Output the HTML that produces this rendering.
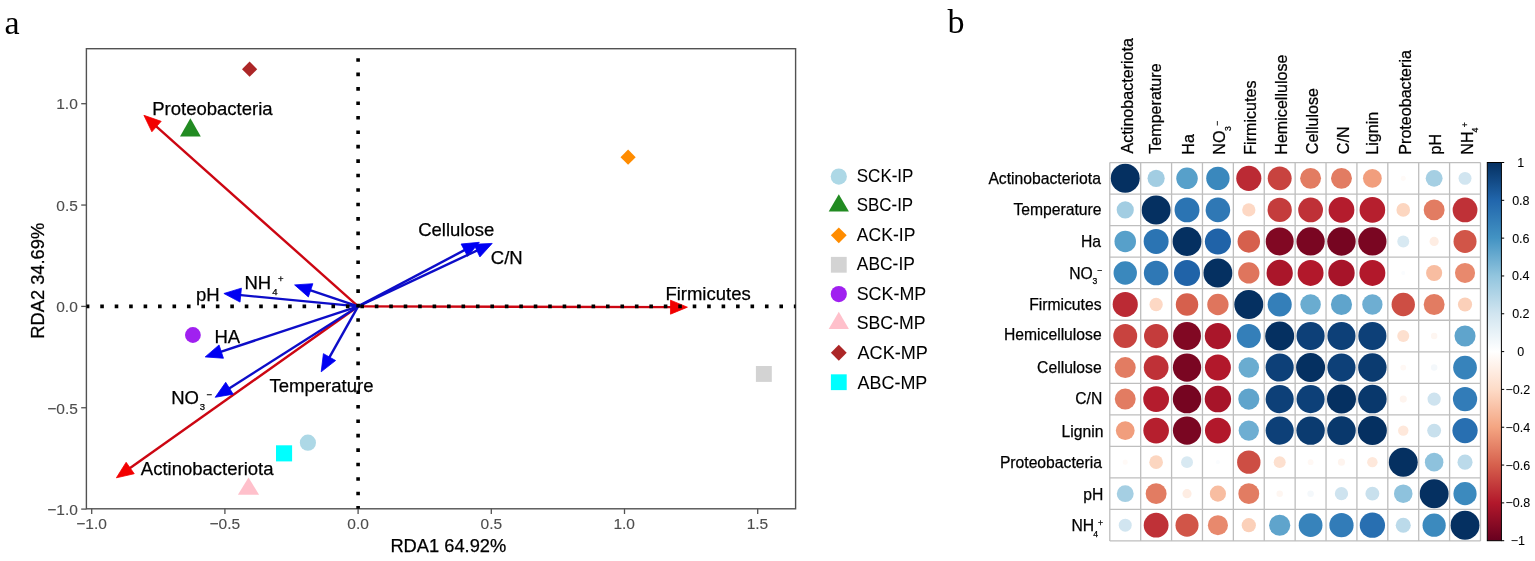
<!DOCTYPE html>
<html><head><meta charset="utf-8"><title>RDA and correlation</title>
<style>html,body{margin:0;padding:0;background:#fff;}svg{display:block;}</style></head>
<body>
<svg width="1535" height="561" viewBox="0 0 1535 561">
<rect width="1535" height="561" fill="#fff"/>
<text x="4.50" y="33.60" font-family="'Liberation Serif',serif" font-size="34" fill="#000" >a</text>
<text x="947.60" y="32.80" font-family="'Liberation Serif',serif" font-size="34" fill="#000" >b</text>
<rect x="86.4" y="48.7" width="709.2" height="460.1" fill="none" stroke="#525252" stroke-width="1.4"/>
<line x1="81.20" y1="103.70" x2="86.40" y2="103.70" stroke="#525252" stroke-width="1.3"/>
<text x="56.26" y="109.45" font-family="'Liberation Sans',Arial,sans-serif" font-size="15.5" fill="#4d4d4d" stroke="#4d4d4d" stroke-width="0.12" >1.0</text>
<line x1="81.20" y1="205.05" x2="86.40" y2="205.05" stroke="#525252" stroke-width="1.3"/>
<text x="56.30" y="210.80" font-family="'Liberation Sans',Arial,sans-serif" font-size="15.5" fill="#4d4d4d" stroke="#4d4d4d" stroke-width="0.12" >0.5</text>
<line x1="81.20" y1="306.40" x2="86.40" y2="306.40" stroke="#525252" stroke-width="1.3"/>
<text x="56.26" y="312.15" font-family="'Liberation Sans',Arial,sans-serif" font-size="15.5" fill="#4d4d4d" stroke="#4d4d4d" stroke-width="0.12" >0.0</text>
<line x1="81.20" y1="407.75" x2="86.40" y2="407.75" stroke="#525252" stroke-width="1.3"/>
<text x="47.25" y="413.50" font-family="'Liberation Sans',Arial,sans-serif" font-size="15.5" fill="#4d4d4d" stroke="#4d4d4d" stroke-width="0.12" >−0.5</text>
<line x1="81.20" y1="509.10" x2="86.40" y2="509.10" stroke="#525252" stroke-width="1.3"/>
<text x="47.21" y="514.85" font-family="'Liberation Sans',Arial,sans-serif" font-size="15.5" fill="#4d4d4d" stroke="#4d4d4d" stroke-width="0.12" >−1.0</text>
<line x1="91.70" y1="508.80" x2="91.70" y2="514.00" stroke="#525252" stroke-width="1.3"/>
<text x="76.32" y="529.30" font-family="'Liberation Sans',Arial,sans-serif" font-size="15.5" fill="#4d4d4d" stroke="#4d4d4d" stroke-width="0.12" >−1.0</text>
<line x1="224.90" y1="508.80" x2="224.90" y2="514.00" stroke="#525252" stroke-width="1.3"/>
<text x="209.54" y="529.30" font-family="'Liberation Sans',Arial,sans-serif" font-size="15.5" fill="#4d4d4d" stroke="#4d4d4d" stroke-width="0.12" >−0.5</text>
<line x1="358.10" y1="508.80" x2="358.10" y2="514.00" stroke="#525252" stroke-width="1.3"/>
<text x="347.33" y="529.30" font-family="'Liberation Sans',Arial,sans-serif" font-size="15.5" fill="#4d4d4d" stroke="#4d4d4d" stroke-width="0.12" >0.0</text>
<line x1="491.30" y1="508.80" x2="491.30" y2="514.00" stroke="#525252" stroke-width="1.3"/>
<text x="480.55" y="529.30" font-family="'Liberation Sans',Arial,sans-serif" font-size="15.5" fill="#4d4d4d" stroke="#4d4d4d" stroke-width="0.12" >0.5</text>
<line x1="624.50" y1="508.80" x2="624.50" y2="514.00" stroke="#525252" stroke-width="1.3"/>
<text x="613.44" y="529.30" font-family="'Liberation Sans',Arial,sans-serif" font-size="15.5" fill="#4d4d4d" stroke="#4d4d4d" stroke-width="0.12" >1.0</text>
<line x1="757.70" y1="508.80" x2="757.70" y2="514.00" stroke="#525252" stroke-width="1.3"/>
<text x="746.66" y="529.30" font-family="'Liberation Sans',Arial,sans-serif" font-size="15.5" fill="#4d4d4d" stroke="#4d4d4d" stroke-width="0.12" >1.5</text>
<text x="390.40" y="551.50" font-family="'Liberation Sans',Arial,sans-serif" font-size="18.3" fill="#000" stroke="#000" stroke-width="0.25" >RDA1 64.92%</text>
<text transform="translate(44.0,338.70) rotate(-90)" font-family="'Liberation Sans',Arial,sans-serif" font-size="18.3" fill="#000" stroke="#000" stroke-width="0.25">RDA2 34.69%</text>
<polygon points="249.60,61.60 257.20,69.20 249.60,76.80 242.00,69.20" fill="#ac2627"/>
<polygon points="190.40,118.30 200.80,136.50 180.00,136.50" fill="#228b22"/>
<polygon points="628.10,149.60 635.70,157.20 628.10,164.80 620.50,157.20" fill="#ff8c00"/>
<rect x="755.90" y="366.00" width="15.90" height="15.90" fill="#d3d3d3"/>
<circle cx="192.90" cy="335.00" r="7.90" fill="#a020f0"/>
<circle cx="307.90" cy="442.70" r="8.10" fill="#add8e6"/>
<rect x="276.00" y="445.30" width="16.10" height="16.10" fill="#00ffff"/>
<polygon points="248.50,477.50 259.10,494.70 237.90,494.70" fill="#ffc0cb"/>
<line x1="358.1" y1="306.4" x2="154.82" y2="125.05" stroke="#cc0612" stroke-width="2.4"/><polygon points="143.90,115.30 151.85,131.78 161.18,121.33" fill="#f20000" stroke="#f20000" stroke-width="0.8" stroke-linejoin="miter"/>
<line x1="358.1" y1="306.4" x2="672.76" y2="307.16" stroke="#cc0612" stroke-width="2.4"/><polygon points="687.40,307.20 670.51,300.16 670.48,314.16" fill="#f20000" stroke="#f20000" stroke-width="0.8" stroke-linejoin="miter"/>
<line x1="358.1" y1="306.4" x2="128.34" y2="469.33" stroke="#cc0612" stroke-width="2.4"/><polygon points="116.40,477.80 134.24,473.73 126.14,462.31" fill="#f20000" stroke="#f20000" stroke-width="0.8" stroke-linejoin="miter"/>
<line x1="358.1" y1="306.4" x2="238.47" y2="294.90" stroke="#0d0dc8" stroke-width="2.4"/><polygon points="223.90,293.50 240.06,302.09 241.40,288.15" fill="#0000f2" stroke="#0000f2" stroke-width="0.8" stroke-linejoin="miter"/>
<line x1="358.1" y1="306.4" x2="308.47" y2="289.60" stroke="#0d0dc8" stroke-width="2.4"/><polygon points="294.60,284.90 308.37,296.96 312.86,283.69" fill="#0000f2" stroke="#0000f2" stroke-width="0.8" stroke-linejoin="miter"/>
<line x1="358.1" y1="306.4" x2="219.10" y2="352.31" stroke="#0d0dc8" stroke-width="2.4"/><polygon points="205.20,356.90 223.45,358.25 219.06,344.95" fill="#0000f2" stroke="#0000f2" stroke-width="0.8" stroke-linejoin="miter"/>
<line x1="358.1" y1="306.4" x2="227.55" y2="389.44" stroke="#0d0dc8" stroke-width="2.4"/><polygon points="215.20,397.30 233.22,394.13 225.71,382.32" fill="#0000f2" stroke="#0000f2" stroke-width="0.8" stroke-linejoin="miter"/>
<line x1="358.1" y1="306.4" x2="328.39" y2="359.05" stroke="#0d0dc8" stroke-width="2.4"/><polygon points="321.20,371.80 335.61,360.52 323.41,353.63" fill="#0000f2" stroke="#0000f2" stroke-width="0.8" stroke-linejoin="miter"/>
<line x1="358.1" y1="306.4" x2="466.36" y2="249.14" stroke="#0d0dc8" stroke-width="2.4"/><polygon points="479.30,242.30 461.08,244.01 467.63,256.39" fill="#0000f2" stroke="#0000f2" stroke-width="0.8" stroke-linejoin="miter"/>
<line x1="358.1" y1="306.4" x2="478.95" y2="249.63" stroke="#0d0dc8" stroke-width="2.4"/><polygon points="492.20,243.40 473.92,244.25 479.88,256.93" fill="#0000f2" stroke="#0000f2" stroke-width="0.8" stroke-linejoin="miter"/>
<text x="152.28" y="115.00" font-family="'Liberation Sans',Arial,sans-serif" font-size="18.5" fill="#000" stroke="#000" stroke-width="0.25" >Proteobacteria</text>
<text x="195.91" y="300.90" font-family="'Liberation Sans',Arial,sans-serif" font-size="18.5" fill="#000" stroke="#000" stroke-width="0.25" >pH</text>
<text x="214.48" y="342.50" font-family="'Liberation Sans',Arial,sans-serif" font-size="18.5" fill="#000" stroke="#000" stroke-width="0.25" >HA</text>
<text x="269.58" y="391.60" font-family="'Liberation Sans',Arial,sans-serif" font-size="18.5" fill="#000" stroke="#000" stroke-width="0.25" >Temperature</text>
<text x="140.86" y="474.90" font-family="'Liberation Sans',Arial,sans-serif" font-size="18.5" fill="#000" stroke="#000" stroke-width="0.25" >Actinobacteriota</text>
<text x="418.16" y="235.50" font-family="'Liberation Sans',Arial,sans-serif" font-size="18.5" fill="#000" stroke="#000" stroke-width="0.25" >Cellulose</text>
<text x="490.86" y="264.30" font-family="'Liberation Sans',Arial,sans-serif" font-size="18.5" fill="#000" stroke="#000" stroke-width="0.25" >C/N</text>
<text x="665.38" y="300.20" font-family="'Liberation Sans',Arial,sans-serif" font-size="18.5" fill="#000" stroke="#000" stroke-width="0.25" >Firmicutes</text>
<text x="244.38" y="288.70" font-family="'Liberation Sans',Arial,sans-serif" font-size="18.5" fill="#000" stroke="#000" stroke-width="0.25" >NH</text><text x="272.18" y="294.60" font-family="'Liberation Sans',Arial,sans-serif" font-size="9.5" fill="#000" stroke="#000" stroke-width="0.25" >4</text><text x="278.02" y="281.80" font-family="'Liberation Sans',Arial,sans-serif" font-size="9.5" fill="#000" stroke="#000" stroke-width="0.25" >+</text>
<text x="171.18" y="404.00" font-family="'Liberation Sans',Arial,sans-serif" font-size="18.5" fill="#000" stroke="#000" stroke-width="0.25" >NO</text><text x="199.79" y="410.10" font-family="'Liberation Sans',Arial,sans-serif" font-size="9.5" fill="#000" stroke="#000" stroke-width="0.25" >3</text><text x="206.38" y="397.70" font-family="'Liberation Sans',Arial,sans-serif" font-size="9.5" fill="#000" stroke="#000" stroke-width="0.25" >−</text>
<line x1="86.40" y1="306.4" x2="795.60" y2="306.4" stroke="#000" stroke-width="3.6" stroke-dasharray="3.6 10.85" stroke-dashoffset="0.60"/>
<line x1="358.1" y1="508.80" x2="358.1" y2="48.70" stroke="#000" stroke-width="3.6" stroke-dasharray="3.6 10.85" stroke-dashoffset="0.90"/>
<circle cx="838.80" cy="176.60" r="8.10" fill="#add8e6"/>
<text x="856.78" y="181.50" font-family="'Liberation Sans',Arial,sans-serif" font-size="18.0" fill="#000" stroke="#000" stroke-width="0.05"  textLength="56.67" lengthAdjust="spacingAndGlyphs">SCK-IP</text>
<polygon points="838.80,194.36 848.90,211.56 828.70,211.56" fill="#228b22"/>
<text x="856.78" y="211.09" font-family="'Liberation Sans',Arial,sans-serif" font-size="18.0" fill="#000" stroke="#000" stroke-width="0.05"  textLength="56.37" lengthAdjust="spacingAndGlyphs">SBC-IP</text>
<polygon points="838.80,227.42 846.70,235.32 838.80,243.22 830.90,235.32" fill="#ff8c00"/>
<text x="856.86" y="240.68" font-family="'Liberation Sans',Arial,sans-serif" font-size="18.0" fill="#000" stroke="#000" stroke-width="0.05"  textLength="58.48" lengthAdjust="spacingAndGlyphs">ACK-IP</text>
<rect x="830.90" y="256.88" width="15.80" height="15.80" fill="#d3d3d3"/>
<text x="856.86" y="270.27" font-family="'Liberation Sans',Arial,sans-serif" font-size="18.0" fill="#000" stroke="#000" stroke-width="0.05"  textLength="57.98" lengthAdjust="spacingAndGlyphs">ABC-IP</text>
<circle cx="838.80" cy="294.04" r="8.10" fill="#a020f0"/>
<text x="856.68" y="299.86" font-family="'Liberation Sans',Arial,sans-serif" font-size="18.0" fill="#000" stroke="#000" stroke-width="0.05"  textLength="69.57" lengthAdjust="spacingAndGlyphs">SCK-MP</text>
<polygon points="838.80,311.80 848.90,329.00 828.70,329.00" fill="#ffc0cb"/>
<text x="856.68" y="329.45" font-family="'Liberation Sans',Arial,sans-serif" font-size="18.0" fill="#000" stroke="#000" stroke-width="0.05"  textLength="68.87" lengthAdjust="spacingAndGlyphs">SBC-MP</text>
<polygon points="838.80,344.86 846.70,352.76 838.80,360.66 830.90,352.76" fill="#ac2627"/>
<text x="857.56" y="359.04" font-family="'Liberation Sans',Arial,sans-serif" font-size="18.0" fill="#000" stroke="#000" stroke-width="0.05"  textLength="70.28" lengthAdjust="spacingAndGlyphs">ACK-MP</text>
<rect x="830.90" y="374.32" width="15.80" height="15.80" fill="#00ffff"/>
<text x="857.56" y="388.63" font-family="'Liberation Sans',Arial,sans-serif" font-size="18.0" fill="#000" stroke="#000" stroke-width="0.05"  textLength="69.78" lengthAdjust="spacingAndGlyphs">ABC-MP</text>
<circle cx="1125.24" cy="178.37" r="14.50" fill="#053061"/>
<circle cx="1156.13" cy="178.37" r="8.58" fill="#a2cde2"/>
<circle cx="1187.02" cy="178.37" r="10.75" fill="#57a0ca"/>
<circle cx="1217.91" cy="178.37" r="11.69" fill="#3a88bd"/>
<circle cx="1248.80" cy="178.37" r="12.56" fill="#bb2a34"/>
<circle cx="1279.69" cy="178.37" r="11.96" fill="#c8433f"/>
<circle cx="1310.59" cy="178.37" r="10.46" fill="#e27c62"/>
<circle cx="1341.47" cy="178.37" r="10.46" fill="#e27c62"/>
<circle cx="1372.37" cy="178.37" r="9.40" fill="#f19e7d"/>
<circle cx="1403.25" cy="178.37" r="2.51" fill="#fffaf7"/>
<circle cx="1434.14" cy="178.37" r="8.45" fill="#a5cfe3"/>
<circle cx="1465.03" cy="178.37" r="6.48" fill="#d1e5f0"/>
<circle cx="1125.24" cy="209.89" r="8.58" fill="#a2cde2"/>
<circle cx="1156.13" cy="209.89" r="14.50" fill="#053061"/>
<circle cx="1187.02" cy="209.89" r="12.47" fill="#2b74b3"/>
<circle cx="1217.91" cy="209.89" r="12.30" fill="#2f78b5"/>
<circle cx="1248.80" cy="209.89" r="6.64" fill="#fdd8c4"/>
<circle cx="1279.69" cy="209.89" r="12.13" fill="#c43c3c"/>
<circle cx="1310.59" cy="209.89" r="12.39" fill="#bf3137"/>
<circle cx="1341.47" cy="209.89" r="12.89" fill="#b41c2d"/>
<circle cx="1372.37" cy="209.89" r="12.81" fill="#b61f2e"/>
<circle cx="1403.25" cy="209.89" r="6.80" fill="#fcd6c0"/>
<circle cx="1434.14" cy="209.89" r="10.46" fill="#e27c62"/>
<circle cx="1465.03" cy="209.89" r="12.39" fill="#bf3137"/>
<circle cx="1125.24" cy="241.43" r="10.75" fill="#57a0ca"/>
<circle cx="1156.13" cy="241.43" r="12.47" fill="#2b74b3"/>
<circle cx="1187.02" cy="241.43" r="14.50" fill="#053061"/>
<circle cx="1217.91" cy="241.43" r="13.05" fill="#2063a8"/>
<circle cx="1248.80" cy="241.43" r="11.23" fill="#d6604d"/>
<circle cx="1279.69" cy="241.43" r="13.98" fill="#810823"/>
<circle cx="1310.59" cy="241.43" r="14.13" fill="#7a0622"/>
<circle cx="1341.47" cy="241.43" r="14.21" fill="#760521"/>
<circle cx="1372.37" cy="241.43" r="14.13" fill="#7a0622"/>
<circle cx="1403.25" cy="241.43" r="5.98" fill="#d8e9f2"/>
<circle cx="1434.14" cy="241.43" r="4.59" fill="#feede3"/>
<circle cx="1465.03" cy="241.43" r="11.51" fill="#d15548"/>
<circle cx="1125.24" cy="272.95" r="11.69" fill="#3a88bd"/>
<circle cx="1156.13" cy="272.95" r="12.30" fill="#2f78b5"/>
<circle cx="1187.02" cy="272.95" r="13.05" fill="#2063a8"/>
<circle cx="1217.91" cy="272.95" r="14.50" fill="#053061"/>
<circle cx="1248.80" cy="272.95" r="10.66" fill="#df755d"/>
<circle cx="1279.69" cy="272.95" r="13.13" fill="#aa162a"/>
<circle cx="1310.59" cy="272.95" r="12.97" fill="#b2182b"/>
<circle cx="1341.47" cy="272.95" r="13.21" fill="#a71429"/>
<circle cx="1372.37" cy="272.95" r="12.97" fill="#b2182b"/>
<circle cx="1403.25" cy="272.95" r="2.05" fill="#fafcfe"/>
<circle cx="1434.14" cy="272.95" r="8.07" fill="#f8bda1"/>
<circle cx="1465.03" cy="272.95" r="10.05" fill="#e8896d"/>
<circle cx="1125.24" cy="304.49" r="12.56" fill="#bb2a34"/>
<circle cx="1156.13" cy="304.49" r="6.64" fill="#fdd8c4"/>
<circle cx="1187.02" cy="304.49" r="11.23" fill="#d6604d"/>
<circle cx="1217.91" cy="304.49" r="10.66" fill="#df755d"/>
<circle cx="1248.80" cy="304.49" r="14.50" fill="#053061"/>
<circle cx="1279.69" cy="304.49" r="12.04" fill="#347fb9"/>
<circle cx="1310.59" cy="304.49" r="10.25" fill="#6aacd0"/>
<circle cx="1341.47" cy="304.49" r="10.56" fill="#5fa4cc"/>
<circle cx="1372.37" cy="304.49" r="10.15" fill="#6eaed2"/>
<circle cx="1403.25" cy="304.49" r="11.69" fill="#cd4e44"/>
<circle cx="1434.14" cy="304.49" r="10.46" fill="#e27c62"/>
<circle cx="1465.03" cy="304.49" r="7.10" fill="#fbd0b9"/>
<circle cx="1125.24" cy="336.01" r="11.96" fill="#c8433f"/>
<circle cx="1156.13" cy="336.01" r="12.13" fill="#c43c3c"/>
<circle cx="1187.02" cy="336.01" r="13.98" fill="#810823"/>
<circle cx="1217.91" cy="336.01" r="13.13" fill="#aa162a"/>
<circle cx="1248.80" cy="336.01" r="12.04" fill="#347fb9"/>
<circle cx="1279.69" cy="336.01" r="14.50" fill="#053061"/>
<circle cx="1310.59" cy="336.01" r="14.06" fill="#0d4078"/>
<circle cx="1341.47" cy="336.01" r="14.06" fill="#0d4078"/>
<circle cx="1372.37" cy="336.01" r="14.06" fill="#0d4078"/>
<circle cx="1403.25" cy="336.01" r="5.98" fill="#fde0cf"/>
<circle cx="1434.14" cy="336.01" r="3.24" fill="#fef6f1"/>
<circle cx="1465.03" cy="336.01" r="10.56" fill="#5fa4cc"/>
<circle cx="1125.24" cy="367.54" r="10.46" fill="#e27c62"/>
<circle cx="1156.13" cy="367.54" r="12.39" fill="#bf3137"/>
<circle cx="1187.02" cy="367.54" r="14.13" fill="#7a0622"/>
<circle cx="1217.91" cy="367.54" r="12.97" fill="#b2182b"/>
<circle cx="1248.80" cy="367.54" r="10.25" fill="#6aacd0"/>
<circle cx="1279.69" cy="367.54" r="14.06" fill="#0d4078"/>
<circle cx="1310.59" cy="367.54" r="14.50" fill="#053061"/>
<circle cx="1341.47" cy="367.54" r="14.06" fill="#0d4078"/>
<circle cx="1372.37" cy="367.54" r="14.21" fill="#0b3b70"/>
<circle cx="1403.25" cy="367.54" r="2.90" fill="#fff8f4"/>
<circle cx="1434.14" cy="367.54" r="3.24" fill="#f4f8fb"/>
<circle cx="1465.03" cy="367.54" r="11.87" fill="#3783bb"/>
<circle cx="1125.24" cy="399.08" r="10.46" fill="#e27c62"/>
<circle cx="1156.13" cy="399.08" r="12.89" fill="#b41c2d"/>
<circle cx="1187.02" cy="399.08" r="14.21" fill="#760521"/>
<circle cx="1217.91" cy="399.08" r="13.21" fill="#a71429"/>
<circle cx="1248.80" cy="399.08" r="10.56" fill="#5fa4cc"/>
<circle cx="1279.69" cy="399.08" r="14.06" fill="#0d4078"/>
<circle cx="1310.59" cy="399.08" r="14.06" fill="#0d4078"/>
<circle cx="1341.47" cy="399.08" r="14.50" fill="#053061"/>
<circle cx="1372.37" cy="399.08" r="14.28" fill="#09386c"/>
<circle cx="1403.25" cy="399.08" r="3.55" fill="#fef4ee"/>
<circle cx="1434.14" cy="399.08" r="6.64" fill="#cee3ef"/>
<circle cx="1465.03" cy="399.08" r="12.13" fill="#327cb8"/>
<circle cx="1125.24" cy="430.61" r="9.40" fill="#f19e7d"/>
<circle cx="1156.13" cy="430.61" r="12.81" fill="#b61f2e"/>
<circle cx="1187.02" cy="430.61" r="14.13" fill="#7a0622"/>
<circle cx="1217.91" cy="430.61" r="12.97" fill="#b2182b"/>
<circle cx="1248.80" cy="430.61" r="10.15" fill="#6eaed2"/>
<circle cx="1279.69" cy="430.61" r="14.06" fill="#0d4078"/>
<circle cx="1310.59" cy="430.61" r="14.21" fill="#0b3b70"/>
<circle cx="1341.47" cy="430.61" r="14.28" fill="#09386c"/>
<circle cx="1372.37" cy="430.61" r="14.50" fill="#053061"/>
<circle cx="1403.25" cy="430.61" r="5.23" fill="#fee8db"/>
<circle cx="1434.14" cy="430.61" r="6.95" fill="#c8e0ed"/>
<circle cx="1465.03" cy="430.61" r="12.64" fill="#286fb1"/>
<circle cx="1125.24" cy="462.13" r="2.51" fill="#fffaf7"/>
<circle cx="1156.13" cy="462.13" r="6.80" fill="#fcd6c0"/>
<circle cx="1187.02" cy="462.13" r="5.98" fill="#d8e9f2"/>
<circle cx="1217.91" cy="462.13" r="2.05" fill="#fafcfe"/>
<circle cx="1248.80" cy="462.13" r="11.69" fill="#cd4e44"/>
<circle cx="1279.69" cy="462.13" r="5.98" fill="#fde0cf"/>
<circle cx="1310.59" cy="462.13" r="2.90" fill="#fff8f4"/>
<circle cx="1341.47" cy="462.13" r="3.55" fill="#fef4ee"/>
<circle cx="1372.37" cy="462.13" r="5.23" fill="#fee8db"/>
<circle cx="1403.25" cy="462.13" r="14.50" fill="#053061"/>
<circle cx="1434.14" cy="462.13" r="9.28" fill="#8ec2dd"/>
<circle cx="1465.03" cy="462.13" r="7.53" fill="#bbdaea"/>
<circle cx="1125.24" cy="493.66" r="8.45" fill="#a5cfe3"/>
<circle cx="1156.13" cy="493.66" r="10.46" fill="#e27c62"/>
<circle cx="1187.02" cy="493.66" r="4.59" fill="#feede3"/>
<circle cx="1217.91" cy="493.66" r="8.07" fill="#f8bda1"/>
<circle cx="1248.80" cy="493.66" r="10.46" fill="#e27c62"/>
<circle cx="1279.69" cy="493.66" r="3.24" fill="#fef6f1"/>
<circle cx="1310.59" cy="493.66" r="3.24" fill="#f4f8fb"/>
<circle cx="1341.47" cy="493.66" r="6.64" fill="#cee3ef"/>
<circle cx="1372.37" cy="493.66" r="6.95" fill="#c8e0ed"/>
<circle cx="1403.25" cy="493.66" r="9.28" fill="#8ec2dd"/>
<circle cx="1434.14" cy="493.66" r="14.50" fill="#053061"/>
<circle cx="1465.03" cy="493.66" r="11.60" fill="#3c8abe"/>
<circle cx="1125.24" cy="525.20" r="6.48" fill="#d1e5f0"/>
<circle cx="1156.13" cy="525.20" r="12.39" fill="#bf3137"/>
<circle cx="1187.02" cy="525.20" r="11.51" fill="#d15548"/>
<circle cx="1217.91" cy="525.20" r="10.05" fill="#e8896d"/>
<circle cx="1248.80" cy="525.20" r="7.10" fill="#fbd0b9"/>
<circle cx="1279.69" cy="525.20" r="10.56" fill="#5fa4cc"/>
<circle cx="1310.59" cy="525.20" r="11.87" fill="#3783bb"/>
<circle cx="1341.47" cy="525.20" r="12.13" fill="#327cb8"/>
<circle cx="1372.37" cy="525.20" r="12.64" fill="#286fb1"/>
<circle cx="1403.25" cy="525.20" r="7.53" fill="#bbdaea"/>
<circle cx="1434.14" cy="525.20" r="11.60" fill="#3c8abe"/>
<circle cx="1465.03" cy="525.20" r="14.50" fill="#053061"/>
<line x1="1109.80" y1="162.60" x2="1109.80" y2="540.96" stroke="#bebebe" stroke-width="1.3"/>
<line x1="1109.80" y1="162.60" x2="1480.48" y2="162.60" stroke="#bebebe" stroke-width="1.3"/>
<line x1="1140.69" y1="162.60" x2="1140.69" y2="540.96" stroke="#bebebe" stroke-width="1.3"/>
<line x1="1109.80" y1="194.13" x2="1480.48" y2="194.13" stroke="#bebebe" stroke-width="1.3"/>
<line x1="1171.58" y1="162.60" x2="1171.58" y2="540.96" stroke="#bebebe" stroke-width="1.3"/>
<line x1="1109.80" y1="225.66" x2="1480.48" y2="225.66" stroke="#bebebe" stroke-width="1.3"/>
<line x1="1202.47" y1="162.60" x2="1202.47" y2="540.96" stroke="#bebebe" stroke-width="1.3"/>
<line x1="1109.80" y1="257.19" x2="1480.48" y2="257.19" stroke="#bebebe" stroke-width="1.3"/>
<line x1="1233.36" y1="162.60" x2="1233.36" y2="540.96" stroke="#bebebe" stroke-width="1.3"/>
<line x1="1109.80" y1="288.72" x2="1480.48" y2="288.72" stroke="#bebebe" stroke-width="1.3"/>
<line x1="1264.25" y1="162.60" x2="1264.25" y2="540.96" stroke="#bebebe" stroke-width="1.3"/>
<line x1="1109.80" y1="320.25" x2="1480.48" y2="320.25" stroke="#bebebe" stroke-width="1.3"/>
<line x1="1295.14" y1="162.60" x2="1295.14" y2="540.96" stroke="#bebebe" stroke-width="1.3"/>
<line x1="1109.80" y1="351.78" x2="1480.48" y2="351.78" stroke="#bebebe" stroke-width="1.3"/>
<line x1="1326.03" y1="162.60" x2="1326.03" y2="540.96" stroke="#bebebe" stroke-width="1.3"/>
<line x1="1109.80" y1="383.31" x2="1480.48" y2="383.31" stroke="#bebebe" stroke-width="1.3"/>
<line x1="1356.92" y1="162.60" x2="1356.92" y2="540.96" stroke="#bebebe" stroke-width="1.3"/>
<line x1="1109.80" y1="414.84" x2="1480.48" y2="414.84" stroke="#bebebe" stroke-width="1.3"/>
<line x1="1387.81" y1="162.60" x2="1387.81" y2="540.96" stroke="#bebebe" stroke-width="1.3"/>
<line x1="1109.80" y1="446.37" x2="1480.48" y2="446.37" stroke="#bebebe" stroke-width="1.3"/>
<line x1="1418.70" y1="162.60" x2="1418.70" y2="540.96" stroke="#bebebe" stroke-width="1.3"/>
<line x1="1109.80" y1="477.90" x2="1480.48" y2="477.90" stroke="#bebebe" stroke-width="1.3"/>
<line x1="1449.59" y1="162.60" x2="1449.59" y2="540.96" stroke="#bebebe" stroke-width="1.3"/>
<line x1="1109.80" y1="509.43" x2="1480.48" y2="509.43" stroke="#bebebe" stroke-width="1.3"/>
<line x1="1480.48" y1="162.60" x2="1480.48" y2="540.96" stroke="#bebebe" stroke-width="1.3"/>
<line x1="1109.80" y1="540.96" x2="1480.48" y2="540.96" stroke="#bebebe" stroke-width="1.3"/>
<text x="988.42" y="183.97" font-family="'Liberation Sans',Arial,sans-serif" font-size="15.7" fill="#000" stroke="#000" stroke-width="0.25" >Actinobacteriota</text>
<text x="1013.42" y="215.09" font-family="'Liberation Sans',Arial,sans-serif" font-size="15.7" fill="#000" stroke="#000" stroke-width="0.25" >Temperature</text>
<text x="1080.93" y="247.03" font-family="'Liberation Sans',Arial,sans-serif" font-size="15.7" fill="#000" stroke="#000" stroke-width="0.25" >Ha</text>
<text x="1069.25" y="278.56" font-family="'Liberation Sans',Arial,sans-serif" font-size="15.7" fill="#000" stroke="#000" stroke-width="0.25" >NO</text><text x="1092.42" y="284.45" font-family="'Liberation Sans',Arial,sans-serif" font-size="8.6" fill="#000" stroke="#000" stroke-width="0.25" >3</text><text x="1097.00" y="273.16" font-family="'Liberation Sans',Arial,sans-serif" font-size="8.6" fill="#000" stroke="#000" stroke-width="0.25" >−</text>
<text x="1029.17" y="310.09" font-family="'Liberation Sans',Arial,sans-serif" font-size="15.7" fill="#000" stroke="#000" stroke-width="0.25" >Firmicutes</text>
<text x="1003.97" y="340.22" font-family="'Liberation Sans',Arial,sans-serif" font-size="15.7" fill="#000" stroke="#000" stroke-width="0.25" >Hemicellulose</text>
<text x="1037.12" y="373.14" font-family="'Liberation Sans',Arial,sans-serif" font-size="15.7" fill="#000" stroke="#000" stroke-width="0.25" >Cellulose</text>
<text x="1075.24" y="404.08" font-family="'Liberation Sans',Arial,sans-serif" font-size="15.7" fill="#000" stroke="#000" stroke-width="0.25" >C/N</text>
<text x="1061.62" y="436.51" font-family="'Liberation Sans',Arial,sans-serif" font-size="15.7" fill="#000" stroke="#000" stroke-width="0.25" >Lignin</text>
<text x="999.89" y="467.74" font-family="'Liberation Sans',Arial,sans-serif" font-size="15.7" fill="#000" stroke="#000" stroke-width="0.25" >Proteobacteria</text>
<text x="1083.21" y="499.56" font-family="'Liberation Sans',Arial,sans-serif" font-size="15.7" fill="#000" stroke="#000" stroke-width="0.25" >pH</text>
<text x="1071.39" y="530.80" font-family="'Liberation Sans',Arial,sans-serif" font-size="15.7" fill="#000" stroke="#000" stroke-width="0.25" >NH</text><text x="1093.29" y="536.70" font-family="'Liberation Sans',Arial,sans-serif" font-size="8.6" fill="#000" stroke="#000" stroke-width="0.25" >4</text><text x="1098.00" y="525.80" font-family="'Liberation Sans',Arial,sans-serif" font-size="8.6" fill="#000" stroke="#000" stroke-width="0.25" >+</text>
<g transform="translate(1132.52,153.40) rotate(-90)"><text x="-0.03" y="0.00" font-family="'Liberation Sans',Arial,sans-serif" font-size="16.1" fill="#000" stroke="#000" stroke-width="0.25" >Actinobacteriota</text></g>
<g transform="translate(1160.96,153.40) rotate(-90)"><text x="-0.36" y="0.00" font-family="'Liberation Sans',Arial,sans-serif" font-size="16.1" fill="#000" stroke="#000" stroke-width="0.25" >Temperature</text></g>
<g transform="translate(1194.30,153.40) rotate(-90)"><text x="-1.32" y="0.00" font-family="'Liberation Sans',Arial,sans-serif" font-size="16.1" fill="#000" stroke="#000" stroke-width="0.25" >Ha</text></g>
<g transform="translate(1225.14,153.40) rotate(-90)"><text x="-1.32" y="0.00" font-family="'Liberation Sans',Arial,sans-serif" font-size="16.1" fill="#000" stroke="#000" stroke-width="0.25" >NO</text><text x="22.33" y="5.40" font-family="'Liberation Sans',Arial,sans-serif" font-size="8.6" fill="#000" stroke="#000" stroke-width="0.25" >3</text><text x="27.31" y="-5.20" font-family="'Liberation Sans',Arial,sans-serif" font-size="8.6" fill="#000" stroke="#000" stroke-width="0.25" >−</text></g>
<g transform="translate(1256.03,153.40) rotate(-90)"><text x="-1.32" y="0.00" font-family="'Liberation Sans',Arial,sans-serif" font-size="16.1" fill="#000" stroke="#000" stroke-width="0.25" >Firmicutes</text></g>
<g transform="translate(1287.12,153.40) rotate(-90)"><text x="-1.32" y="0.00" font-family="'Liberation Sans',Arial,sans-serif" font-size="16.1" fill="#000" stroke="#000" stroke-width="0.25" >Hemicellulose</text></g>
<g transform="translate(1317.81,153.40) rotate(-90)"><text x="-0.82" y="0.00" font-family="'Liberation Sans',Arial,sans-serif" font-size="16.1" fill="#000" stroke="#000" stroke-width="0.25" >Cellulose</text></g>
<g transform="translate(1349.30,153.40) rotate(-90)"><text x="-0.82" y="0.00" font-family="'Liberation Sans',Arial,sans-serif" font-size="16.1" fill="#000" stroke="#000" stroke-width="0.25" >C/N</text></g>
<g transform="translate(1378.39,153.40) rotate(-90)"><text x="-1.32" y="0.00" font-family="'Liberation Sans',Arial,sans-serif" font-size="16.1" fill="#000" stroke="#000" stroke-width="0.25" >Lignin</text></g>
<g transform="translate(1411.18,153.40) rotate(-90)"><text x="-1.32" y="0.00" font-family="'Liberation Sans',Arial,sans-serif" font-size="16.1" fill="#000" stroke="#000" stroke-width="0.25" >Proteobacteria</text></g>
<g transform="translate(1440.87,153.40) rotate(-90)"><text x="-1.04" y="0.00" font-family="'Liberation Sans',Arial,sans-serif" font-size="16.1" fill="#000" stroke="#000" stroke-width="0.25" >pH</text></g>
<g transform="translate(1473.06,153.40) rotate(-90)"><text x="-1.32" y="0.00" font-family="'Liberation Sans',Arial,sans-serif" font-size="16.1" fill="#000" stroke="#000" stroke-width="0.25" >NH</text><text x="21.02" y="5.40" font-family="'Liberation Sans',Arial,sans-serif" font-size="8.6" fill="#000" stroke="#000" stroke-width="0.25" >4</text><text x="26.13" y="-5.20" font-family="'Liberation Sans',Arial,sans-serif" font-size="8.6" fill="#000" stroke="#000" stroke-width="0.25" >+</text></g>
<defs><linearGradient id="cb" x1="0" y1="1" x2="0" y2="0"><stop offset="0.0" stop-color="#67001F"/><stop offset="0.1" stop-color="#B2182B"/><stop offset="0.2" stop-color="#D6604D"/><stop offset="0.3" stop-color="#F4A582"/><stop offset="0.4" stop-color="#FDDBC7"/><stop offset="0.5" stop-color="#FFFFFF"/><stop offset="0.6" stop-color="#D1E5F0"/><stop offset="0.7" stop-color="#92C5DE"/><stop offset="0.8" stop-color="#4393C3"/><stop offset="0.9" stop-color="#2166AC"/><stop offset="1.0" stop-color="#053061"/></linearGradient></defs>
<rect x="1487.3" y="162.5" width="14.10" height="378.20" fill="url(#cb)"/>
<rect x="1487.30" y="162.5" width="14.10" height="378.20" fill="none" stroke="#000" stroke-width="1"/>
<line x1="1501.40" y1="162.50" x2="1504.20" y2="162.50" stroke="#000" stroke-width="1"/>
<text x="1517.15" y="166.97" font-family="'Liberation Sans',Arial,sans-serif" font-size="12.5" fill="#000" stroke="#000" stroke-width="0.08" >1</text>
<line x1="1501.40" y1="200.32" x2="1504.20" y2="200.32" stroke="#000" stroke-width="1"/>
<text x="1512.14" y="204.79" font-family="'Liberation Sans',Arial,sans-serif" font-size="12.5" fill="#000" stroke="#000" stroke-width="0.08" >0.8</text>
<line x1="1501.40" y1="238.14" x2="1504.20" y2="238.14" stroke="#000" stroke-width="1"/>
<text x="1512.14" y="242.62" font-family="'Liberation Sans',Arial,sans-serif" font-size="12.5" fill="#000" stroke="#000" stroke-width="0.08" >0.6</text>
<line x1="1501.40" y1="275.96" x2="1504.20" y2="275.96" stroke="#000" stroke-width="1"/>
<text x="1512.05" y="280.44" font-family="'Liberation Sans',Arial,sans-serif" font-size="12.5" fill="#000" stroke="#000" stroke-width="0.08" >0.4</text>
<line x1="1501.40" y1="313.78" x2="1504.20" y2="313.78" stroke="#000" stroke-width="1"/>
<text x="1512.18" y="318.26" font-family="'Liberation Sans',Arial,sans-serif" font-size="12.5" fill="#000" stroke="#000" stroke-width="0.08" >0.2</text>
<line x1="1501.40" y1="351.60" x2="1504.20" y2="351.60" stroke="#000" stroke-width="1"/>
<text x="1517.32" y="356.08" font-family="'Liberation Sans',Arial,sans-serif" font-size="12.5" fill="#000" stroke="#000" stroke-width="0.08" >0</text>
<line x1="1501.40" y1="389.42" x2="1504.20" y2="389.42" stroke="#000" stroke-width="1"/>
<text x="1505.57" y="393.90" font-family="'Liberation Sans',Arial,sans-serif" font-size="12.5" fill="#000" stroke="#000" stroke-width="0.08" >−0.2</text>
<line x1="1501.40" y1="427.24" x2="1504.20" y2="427.24" stroke="#000" stroke-width="1"/>
<text x="1505.44" y="431.72" font-family="'Liberation Sans',Arial,sans-serif" font-size="12.5" fill="#000" stroke="#000" stroke-width="0.08" >−0.4</text>
<line x1="1501.40" y1="465.06" x2="1504.20" y2="465.06" stroke="#000" stroke-width="1"/>
<text x="1505.53" y="469.54" font-family="'Liberation Sans',Arial,sans-serif" font-size="12.5" fill="#000" stroke="#000" stroke-width="0.08" >−0.6</text>
<line x1="1501.40" y1="502.88" x2="1504.20" y2="502.88" stroke="#000" stroke-width="1"/>
<text x="1505.53" y="507.36" font-family="'Liberation Sans',Arial,sans-serif" font-size="12.5" fill="#000" stroke="#000" stroke-width="0.08" >−0.8</text>
<line x1="1501.40" y1="540.70" x2="1504.20" y2="540.70" stroke="#000" stroke-width="1"/>
<text x="1510.77" y="545.18" font-family="'Liberation Sans',Arial,sans-serif" font-size="12.5" fill="#000" stroke="#000" stroke-width="0.08" >−1</text>
</svg>
</body></html>
